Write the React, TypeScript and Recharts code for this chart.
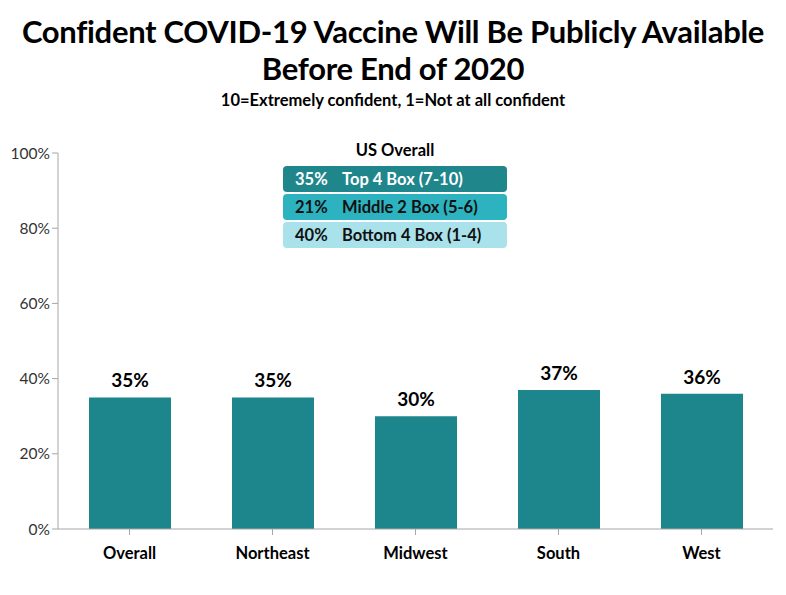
import React from "react";
import { BarChart, Bar, XAxis, YAxis, LabelList } from "recharts";

const categories = ["Overall", "Northeast", "Midwest", "South", "West"];
const values = [35, 35, 30, 37, 36];
const yTicks = [0, 20, 40, 60, 80, 100];
const legendPcts = ["35%", "21%", "40%"];
const legendLabels = ["Top 4 Box (7-10)", "Middle 2 Box (5-6)", "Bottom 4 Box (1-4)"];
const legendColors = ["#1f868c", "#2cb3bf", "#a9e2ea"];
const legendTextColors = ["#ffffff", "#111111", "#111111"];

const data = categories.map((c, i) => ({ name: c, value: values[i] }));

const FONT = "Lato, 'Open Sans', sans-serif";

export default function App() {
  return (
    <div style={{ position: "absolute", left: 0, top: 0, width: 786, height: 595, background: "#fff", fontFamily: FONT }}>
      <div style={{ position: "absolute", left: 0, top: 13, width: 786, textAlign: "center", fontWeight: 700, fontSize: 31, lineHeight: "37px", color: "#000", letterSpacing: -0.3 }}>
        Confident COVID-19 Vaccine Will Be Publicly Available<br />Before End of 2020
      </div>
      <div style={{ position: "absolute", left: 0, top: 90, width: 786, textAlign: "center", fontWeight: 700, fontSize: 16.5, color: "#000" }}>
        10=Extremely confident, 1=Not at all confident
      </div>
      <BarChart width={786} height={595} data={data} margin={{ top: 153, right: 13, left: 0, bottom: 36 }}>
        <YAxis
          domain={[0, 100]}
          ticks={yTicks}
          width={58}
          tickFormatter={(v) => `${v}%`}
          axisLine={{ stroke: "#a6a6a6" }}
          tickLine={{ stroke: "#a6a6a6" }}
          tickSize={6}
          tick={{ fill: "#333", fontSize: 15.5, fontFamily: FONT }}
          interval={0}
        />
        <XAxis
          dataKey="name"
          height={30}
          axisLine={{ stroke: "#a6a6a6" }}
          tickLine={{ stroke: "#a6a6a6" }}
          tickSize={6}
          tick={{ fill: "#000", fontSize: 16.5, fontWeight: 700, fontFamily: FONT, dy: 10 }}
          interval={0}
        />
        <Bar dataKey="value" fill="#1c868c" barSize={82} isAnimationActive={false}>
          <LabelList
            dataKey="value"
            position="top"
            offset={10}
            formatter={(v: number) => `${v}%`}
            style={{ fill: "#000", fontSize: 19, fontWeight: 700, fontFamily: FONT }}
          />
        </Bar>
      </BarChart>
      <div style={{ position: "absolute", left: 283, top: 140, width: 224, textAlign: "center", fontWeight: 700, fontSize: 16.5, color: "#000" }}>
        US Overall
      </div>
      {legendLabels.map((lab, i) => (
        <div
          key={lab}
          style={{
            position: "absolute",
            left: 283,
            top: 166 + i * 28,
            width: 224,
            height: 26,
            background: legendColors[i],
            borderRadius: 4,
            color: legendTextColors[i],
            fontWeight: 700,
            fontSize: 16.5,
            lineHeight: "26px",
            boxSizing: "border-box",
            paddingLeft: 12,
            whiteSpace: "nowrap",
          }}
        >
          <span style={{ display: "inline-block", width: 47 }}>{legendPcts[i]}</span>
          {lab}
        </div>
      ))}
    </div>
  );
}
